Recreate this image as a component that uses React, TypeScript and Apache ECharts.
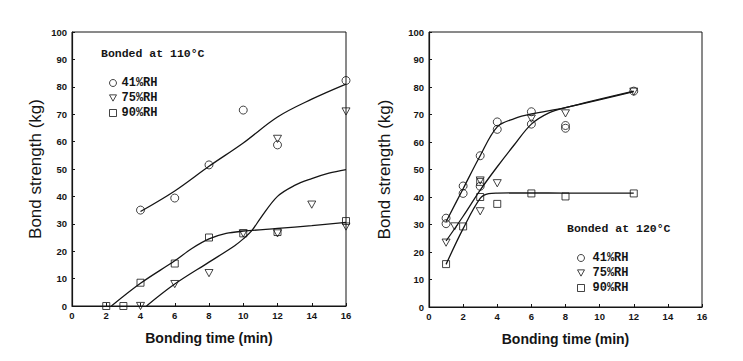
import React, { useEffect, useRef } from "react";
import * as echarts from "echarts";

// ---- Data: left panel (bonded at 110 °C) ----
const left41: number[][] = [[4, 35], [6, 39.4], [8, 51.5], [10, 71.5], [12, 58.8], [16, 82.3]];
const left75: number[][] = [[4, 0], [6, 8], [8, 12], [10, 26.5], [12, 61], [12, 26.5], [14, 37], [16, 71], [16, 29]];
const left90: number[][] = [[2, 0], [3, 0], [4, 8.5], [6, 15.5], [8, 25], [10, 26.5], [12, 27], [16, 31]];
const left41Fit: number[][] = [[4, 34.5], [6, 42], [8, 51], [10, 59.5], [12, 69], [14, 75.5], [16, 81]];
const left75Fit: number[][] = [[4.35, 0], [6, 8], [8, 16], [9.5, 22], [10, 24.5], [10.5, 27.5], [11, 32], [12, 40], [13, 44], [14, 46.5], [15, 48.5], [16, 49.8]];
const left90Fit: number[][] = [[2.3, 0], [4, 8.3], [6, 16.5], [7, 21], [8, 24.5], [9, 26.5], [10, 27.3], [12, 28.3], [14, 29.3], [16, 30.5]];

// ---- Data: right panel (bonded at 120 °C) ----
const right41: number[][] = [[1, 32.3], [1, 30.3], [2, 44], [2, 41.3], [3, 55], [3, 43.9], [4, 67.3], [4, 64.6], [6, 71], [6, 66.5], [8, 66], [8, 65], [12, 78.5]];
const right75: number[][] = [[1, 23.4], [1.5, 29.3], [3, 34.8], [3, 46], [4, 45], [6, 68.5], [8, 70.4], [12, 78.3]];
const right90: number[][] = [[1, 15.6], [2, 29.3], [3, 40], [3, 45.5], [4, 37.5], [6, 41.3], [8, 40.2], [12, 41.3]];
const right41Fit: number[][] = [[1, 31], [2, 43], [3, 55], [4, 65.5], [5, 68.5], [6, 70.2], [8, 72.5], [12, 78.3]];
const right75Fit: number[][] = [[1, 24], [2, 33], [3, 42.5], [4, 51], [5, 59], [6, 66.5], [7, 70.5], [8, 72.5], [12, 78.5]];
const right90Fit: number[][] = [[1, 15.5], [2, 28.5], [3, 39.5], [3.5, 41.2], [4, 41.4], [6, 41.5], [8, 41.4], [12, 41.4]];

const seriesNames = ["41%RH", "75%RH", "90%RH"];
const panelTitles = ["Bonded at 110°C", "Bonded at 120°C"];
const xTitle = "Bonding time (min)";
const yTitle = "Bond strength (kg)";

const INK = "#151515";
const TRI = "path://M0,0L10,0L5,9Z";
const symbols = ["circle", TRI, "rect"];
const symbolSizes = [8, 8, 7];

export default function App() {
  const ref = useRef<HTMLDivElement>(null);
  useEffect(() => {
    if (!ref.current) return;
    const chart = echarts.init(ref.current, null, { renderer: "svg" });

    const hollow = { color: "rgba(0,0,0,0)", borderColor: INK, borderWidth: 1 };
    const tickFont = { color: INK, fontSize: 9.5, fontWeight: "bold" as const, fontFamily: "Liberation Sans, Arial, sans-serif" };

    const mkX = (gi: number) => ({
      type: "value", gridIndex: gi, min: 0, max: 16, interval: 2,
      axisLine: { show: true, lineStyle: { color: INK, width: 1.2 } },
      axisTick: { show: true, inside: true, length: 3, lineStyle: { color: INK } },
      splitLine: { show: false },
      axisLabel: { ...tickFont, margin: 4 },
      name: xTitle, nameLocation: "middle", nameGap: 25,
      nameTextStyle: { color: INK, fontSize: 14, fontWeight: "bold", fontFamily: "Liberation Sans, Arial, sans-serif" },
    });
    const mkY = (gi: number, gap: number) => ({
      type: "value", gridIndex: gi, min: 0, max: 100, interval: 10,
      axisLine: { show: true, lineStyle: { color: INK, width: 1.2 } },
      axisTick: { show: true, inside: true, length: 3, lineStyle: { color: INK } },
      splitLine: { show: false },
      axisLabel: { ...tickFont, margin: 5 },
      name: yTitle, nameLocation: "middle", nameGap: gap, nameRotate: 90,
      nameTextStyle: { color: INK, fontSize: 17, fontFamily: "Liberation Sans, Arial, sans-serif" },
    });

    const scatters = (gi: number, sets: number[][][]) =>
      sets.map((d, i) => ({
        type: "scatter", name: seriesNames[i], xAxisIndex: gi, yAxisIndex: gi,
        data: d, symbol: symbols[i], symbolSize: symbolSizes[i], symbolKeepAspect: true,
        itemStyle: hollow, silent: true, z: 3,
      }));
    const fits = (gi: number, sets: number[][][]) =>
      sets.map((d, i) => ({
        type: "line", name: "fit" + gi + "_" + i, xAxisIndex: gi, yAxisIndex: gi,
        data: d, showSymbol: false, symbol: "none", smooth: 0.35, silent: true,
        lineStyle: { color: INK, width: 1.3 }, z: 2,
      }));

    const legendData = seriesNames.map((n, i) => ({ name: n, icon: symbols[i] }));
    const legendCommon = {
      orient: "vertical", data: legendData, selectedMode: false,
      itemWidth: 7, itemHeight: 7, itemGap: 3,
      itemStyle: hollow,
      textStyle: { color: INK, fontSize: 12, lineHeight: 12, fontWeight: "bold", fontFamily: "Liberation Mono, Courier New, monospace", padding: [0, 0, 0, 0] },
    };

    const titleStyle = { fill: INK, fontSize: 11.5, fontWeight: "bold", fontFamily: "Liberation Mono, Courier New, monospace", textVerticalAlign: "middle" };

    chart.setOption({
      animation: false,
      backgroundColor: "#ffffff",
      grid: [
        { left: 72, right: 397, top: 32, bottom: 55, show: true, borderColor: INK, borderWidth: 1 },
        { left: 429, right: 41, top: 32, bottom: 54, show: true, borderColor: INK, borderWidth: 1 },
      ],
      xAxis: [mkX(0), mkX(1)],
      yAxis: [mkY(0, 28), mkY(1, 36)],
      legend: [
        { ...legendCommon, left: 104, top: 72 },
        { ...legendCommon, left: 572, top: 247, textStyle: { ...legendCommon.textStyle, padding: [0, 0, 0, 3] } },
      ],
      graphic: [
        { type: "text", left: 101, top: 47, style: { ...titleStyle, text: panelTitles[0] } },
        { type: "text", left: 567, top: 222, style: { ...titleStyle, text: panelTitles[1] } },
      ],
      series: [
        ...fits(0, [left41Fit, left75Fit, left90Fit]),
        ...scatters(0, [left41, left75, left90]),
        ...fits(1, [right41Fit, right75Fit, right90Fit]),
        ...scatters(1, [right41, right75, right90]),
      ],
    });
    return () => chart.dispose();
  }, []);
  return (
    <div
      ref={ref}
      style={{ position: "fixed", left: 0, top: 0, width: 743, height: 361, background: "#fff" }}
    />
  );
}
